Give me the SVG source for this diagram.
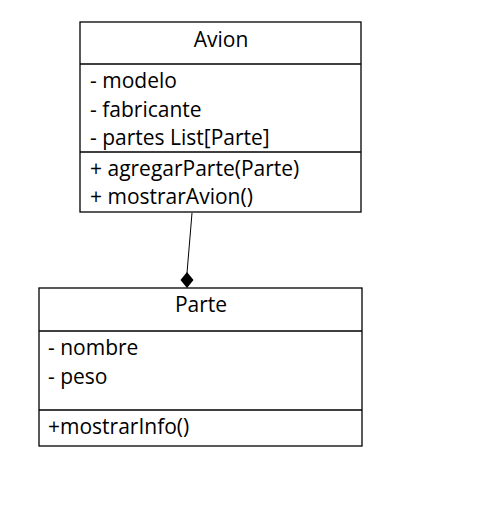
<svg xmlns="http://www.w3.org/2000/svg" width="502" height="517" viewBox="0 0 502 517">
<style>
.box{fill:#fff;stroke:#000;stroke-width:1.3}
.div{stroke:#000;stroke-width:1.3}
text{font-family:"Open Sans","Liberation Sans",Arial,sans-serif;font-size:21px;fill:#000}
.t{text-anchor:middle}
</style>
<rect width="502" height="517" fill="#fff"/>
<g id="Avion">
<rect class="box" x="80" y="22" width="281" height="190"/>
<line class="div" x1="80" y1="64" x2="361" y2="64"/>
<line class="div" x1="80" y1="152" x2="361" y2="152"/>
<text class="t" x="221" y="47">Avion</text>
<text x="90" y="88">- modelo</text>
<text x="90" y="117">- fabricante</text>
<text x="90" y="145">- partes List[Parte]</text>
<text x="90" y="176">+ agregarParte(Parte)</text>
<text x="90" y="204">+ mostrarAvion()</text>
</g>
<g id="Parte">
<rect class="box" x="39" y="288" width="323" height="158"/>
<line class="div" x1="39" y1="331" x2="362" y2="331"/>
<line class="div" x1="39" y1="410" x2="362" y2="410"/>
<text class="t" x="201" y="312">Parte</text>
<text x="48" y="355">- nombre</text>
<text x="48" y="384">- peso</text>
<text x="48" y="434">+mostrarInfo()</text>
</g>
<g id="connectors">
<line x1="192" y1="213" x2="187" y2="273" stroke="#000" stroke-width="1"/>
<polygon points="187,272 193.5,280 187,288 180.5,280" fill="#000"/>
</g>
</svg>
